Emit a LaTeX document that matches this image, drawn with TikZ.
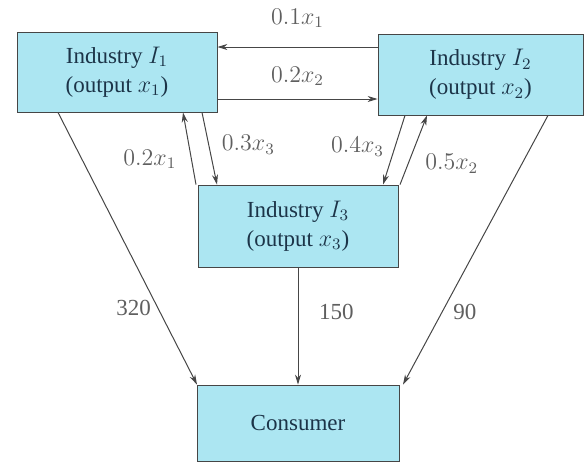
\documentclass[tikz,border=0pt]{standalone}
\usepackage{fontspec}
\setmainfont{Liberation Serif}
\usetikzlibrary{arrows.meta}
\definecolor{boxfill}{RGB}{172,230,242}
\definecolor{boxtext}{RGB}{28,52,72}
\definecolor{flowline}{RGB}{70,70,70}
\definecolor{flowtext}{RGB}{95,95,95}
\tikzset{
  sector/.style={draw=flowline, fill=boxfill, text=boxtext, align=center,
    inner sep=0pt, font=\fontsize{11.5}{14.5}\selectfont},
  flow/.style={draw=flowline, line width=0.5pt, -{Stealth[length=5pt,width=3pt]}},
  amount/.style={text=flowtext, font=\fontsize{11.5}{14}\selectfont}
}

\begin{document}
\begin{tikzpicture}[x=0.5pt, y=-0.5pt]
        \useasboundingbox (0,0) rectangle (588,462);
        % industries and consumer
        \node[sector, minimum width=100pt, minimum height=40pt] (ind1) at (117,72) {Industry $I_1$\\(output $x_1$)};
        \node[sector, minimum width=102.5pt, minimum height=40.5pt] (ind2) at (480.5,74.5) {Industry $I_2$\\(output $x_2$)};
        \node[sector, minimum width=100pt, minimum height=41pt] (ind3) at (298,226) {Industry $I_3$\\(output $x_3$)};
        \node[sector, minimum width=101pt, minimum height=38pt] (cons) at (298,423) {Consumer};
        % flows between I1 and I2
        \draw[flow] (ind2.west |- 0,47) -- node[amount, above, yshift=6pt] {$0.1x_1$} (ind1.east |- 0,47);
        \draw[flow] (ind1.east |- 0,99) -- node[amount, above, yshift=3pt] {$0.2x_2$} (ind2.west |- 0,99);
        % flows between I1 and I3
        \draw[flow] (196,0 |- ind3.north) -- node[amount, left, pos=0.35, xshift=-4pt] {$0.2x_1$} (183,0 |- ind1.south);
        \draw[flow] (202,0 |- ind1.south) -- node[amount, right, pos=0.45, xshift=3pt] {$0.3x_3$} (217,0 |- ind3.north);
        % flows between I2 and I3
        \draw[flow] (405,0 |- ind2.south) -- node[amount, left, pos=0.45, xshift=-2pt] {$0.4x_3$} (383,0 |- ind3.north);
        \draw[flow] (400,0 |- ind3.north) -- node[amount, right, pos=0.3, xshift=5pt] {$0.5x_2$} (427,0 |- ind2.south);
        % final demand
        \draw[flow] (58,0 |- ind1.south) -- node[amount, left, pos=0.72, xshift=0pt] {320} (197,0 |- cons.north);
        \draw[flow] (ind3.south) -- node[amount, right, pos=0.38, xshift=7pt] {150} (cons.north);
        \draw[flow] (548,0 |- ind2.south) -- node[amount, right, pos=0.73, xshift=2pt] {90} (403,0 |- cons.north);
\end{tikzpicture}
\end{document}
